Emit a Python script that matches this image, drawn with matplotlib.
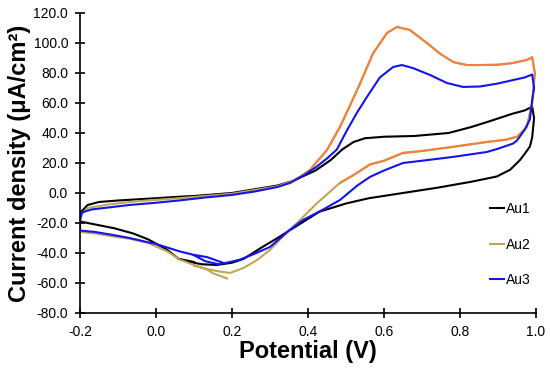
import matplotlib.pyplot as plt
import numpy as np

# potential (V) / current density (uA/cm2)
au1_v = [0.10, 0.06, 0.03, -0.02, -0.06, -0.11, -0.16, -0.19, -0.2, -0.2, -0.195, -0.18, -0.15, -0.1,
         0.0, 0.06, 0.1, 0.2, 0.26, 0.32, 0.36, 0.42, 0.46, 0.49, 0.52, 0.55, 0.6, 0.68, 0.77, 0.83,
         0.88, 0.94, 0.97, 0.99, 0.995, 0.99, 0.984, 0.97, 0.958, 0.932, 0.897, 0.83, 0.74, 0.65,
         0.56, 0.5, 0.43, 0.37, 0.32, 0.28, 0.23, 0.2, 0.16, 0.12, 0.08, 0.06]
au1_i = [-46, -44, -38, -31, -27, -23.5, -21, -19.5, -19, -15, -12, -8, -6, -5,
         -3.5, -2.5, -2, 0, 2.5, 5, 8, 15, 22, 29, 34, 36.5, 37.5, 38, 40, 44,
         48, 53, 55, 57.5, 50, 37, 31, 26, 22, 15.5, 11, 7.5, 3.5, 0,
         -3.5, -7, -12.5, -22, -30, -36, -44, -46.5, -48, -47.5, -45.5, -44]

au2_v = [0.187, 0.15, 0.134, 0.1, 0.063, 0.03, -0.024, -0.07, -0.113, -0.16, -0.2, -0.2, -0.195, -0.18,
         -0.12, -0.05, 0.06, 0.13, 0.2, 0.26, 0.32, 0.353, 0.38, 0.405, 0.45, 0.484, 0.51, 0.537,
         0.571, 0.608, 0.634, 0.668, 0.713, 0.747, 0.782, 0.818, 0.853, 0.9, 0.94, 0.976, 0.99,
         0.997, 0.99, 0.976, 0.95, 0.92, 0.87, 0.78, 0.7, 0.65, 0.6, 0.563, 0.52, 0.484, 0.424,
         0.379, 0.326, 0.3, 0.266, 0.23, 0.195, 0.17, 0.14, 0.1]
au2_i = [-57, -53.5, -51, -48, -44.5, -39, -33, -30.5, -29, -27, -26, -18, -14, -10,
         -7.5, -5.5, -3.5, -2, -0.5, 2, 4.5, 7.3, 11, 15.3, 28.7, 44, 58, 73,
         93, 106.7, 110.7, 108.7, 100, 93, 87.3, 85.3, 85.3, 85.5, 86.7, 88.7, 90.5,
         80, 60, 44, 37.5, 35.5, 34, 30.7, 28, 26.7, 21.5, 19, 12, 6.7, -6.7,
         -18, -31, -38, -44.7, -50, -53.3, -52.5, -51, -48.5]

au3_v = [0.176, 0.134, 0.1, 0.063, 0.0, -0.024, -0.07, -0.113, -0.16, -0.2, -0.2, -0.195, -0.17, -0.12,
         -0.07, 0.0, 0.06, 0.13, 0.2, 0.26, 0.32, 0.353, 0.39, 0.42, 0.45, 0.476, 0.503, 0.53, 0.555,
         0.589, 0.624, 0.647, 0.676, 0.721, 0.766, 0.808, 0.853, 0.9, 0.94, 0.97, 0.99, 0.995, 0.99,
         0.984, 0.97, 0.95, 0.94, 0.9, 0.87, 0.78, 0.7, 0.65, 0.6, 0.563, 0.53, 0.484, 0.44, 0.387,
         0.35, 0.3, 0.255, 0.22, 0.195, 0.165, 0.13, 0.1]
au3_i = [-46.5, -42.7, -41.3, -39, -34, -32.7, -30, -28, -26, -25, -18, -13, -11, -9.5,
         -8, -6.5, -5, -3, -1.3, 1, 4, 6.7, 12, 17, 23, 29, 42, 54, 64,
         77, 84, 85.3, 83.3, 78.7, 73.3, 70.7, 71, 73, 75.3, 77, 79, 70, 62,
         49, 42, 35, 33, 29.5, 27.3, 24, 21.5, 20, 15, 10.7, 5, -4.7, -11, -18,
         -25, -36, -41, -44.5, -46, -47.5, -45.5, -41.5]

labels = ['Au1', 'Au2', 'Au3']
x_ticks = [-0.2, 0.0, 0.2, 0.4, 0.6, 0.8, 1.0]
y_ticks = [-80, -60, -40, -20, 0, 20, 40, 60, 80, 100, 120]

plt.rcParams['font.family'] = ['Liberation Sans', 'DejaVu Sans']

fig = plt.figure(figsize=(5.5, 3.68), dpi=100)
ax = fig.add_axes([0.1455, 0.1495, 0.829, 0.8152])

gold = '#C4A456'
orange = '#F2813D'

h1, = ax.plot(au1_v, au1_i, color='black', lw=1.5)
h2, = ax.plot(au2_v, au2_i, color=gold, lw=1.5)
# the high-current part of the Au2 loop is drawn orange in the original
i2 = np.array(au2_i)
ax.plot(au2_v, np.ma.masked_where(i2 < 6, i2), color=orange, lw=1.5)
h3, = ax.plot(au3_v, au3_i, color='#1414F0', lw=1.5)

ax.set_xlim(-0.2, 1.0)
ax.set_ylim(-80, 120)
ax.set_xticks(x_ticks)
ax.set_yticks(y_ticks)
ax.set_xticklabels(['%.1f' % t for t in x_ticks])
ax.set_yticklabels(['%.1f' % t for t in y_ticks])
ax.tick_params(direction='inout', length=7, width=1.2, labelsize=10, pad=5, colors='black')

for s in ['top', 'right']:
    ax.spines[s].set_visible(False)
for s in ['left', 'bottom']:
    ax.spines[s].set_linewidth(1.2)

ax.set_xlabel('Potential (V)', fontsize=17, fontweight='bold', labelpad=1)
ax.set_ylabel('Current density (μA/cm²)', fontsize=17, fontweight='bold', labelpad=2)

ax.legend([h1, h2, h3], labels, loc='upper left', bbox_to_anchor=(0.9, 0.37), frameon=False,
          fontsize=10, handlelength=1.0, handletextpad=0.15, labelspacing=1.55,
          borderpad=0, borderaxespad=0)

fig.savefig('out.png', dpi=100)
